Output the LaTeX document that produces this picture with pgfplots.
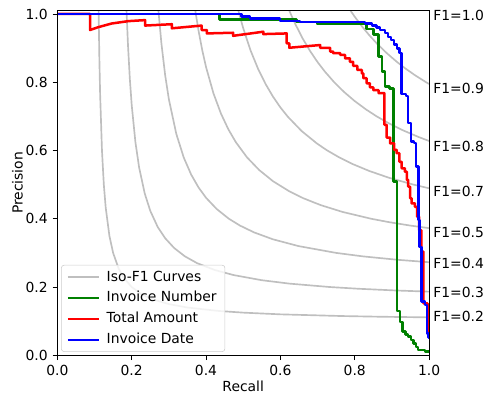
\documentclass[border=0pt]{standalone}
\usepackage{pgfplots}
\pgfplotsset{compat=1.18}
\usepackage{fontspec}
\setmainfont{DejaVu Sans}
\definecolor{isogray}{RGB}{191,191,191}
\definecolor{mplgreen}{RGB}{0,128,0}
\definecolor{legedge}{RGB}{204,204,204}
\begin{document}
\begin{tikzpicture}
\begin{axis}[
  scale only axis, width=267.6pt, height=248.2pt,
  xmin=0, xmax=1, ymin=0, ymax=1.01,
  xtick={0,0.2,0.4,0.6,0.8,1.0}, ytick={0,0.2,0.4,0.6,0.8,1.0},
  tick align=outside, major tick length=3.5pt,
  xtick pos=bottom, ytick pos=left,
  tick style={black, line width=0.6pt},
  axis line style={line width=0.6pt},
  xticklabel style={/pgf/number format/.cd, fixed, fixed zerofill, precision=1, assume math mode=true},
  yticklabel style={/pgf/number format/.cd, fixed, fixed zerofill, precision=1, assume math mode=true},
  font=\fontsize{10}{12}\selectfont,
  xlabel={Recall}, ylabel={Precision},
  xlabel style={yshift=3pt},
  ylabel style={yshift=-5pt},
  clip mode=individual,
  axis on top,
  legend style={at={(0.01,0.01)}, anchor=south west, draw=legedge, rounded corners=2pt,
    fill=white, fill opacity=0.8, text opacity=1, font=\fontsize{10}{12}\selectfont,
    inner xsep=4pt, inner ysep=2pt, row sep=2pt},
  legend cell align=left,
  legend image code/.code={\draw[#1, line width=1.5pt] (0pt,0pt) -- (22pt,0pt); \path (25pt,0pt);},
]
% Iso-F1 curves
\addplot[isogray, line width=1.2pt] coordinates {(0.11099,1.01)(0.1111,1)(0.113,0.869)(0.115,0.7667)(0.12,0.6)(0.125,0.5)(0.13,0.4333)(0.14,0.35)(0.15,0.3)(0.165,0.2538)(0.18,0.225)(0.2,0.2)(0.225,0.18)(0.2538,0.165)(0.3,0.15)(0.35,0.14)(0.4333,0.13)(0.5,0.125)(0.6,0.12)(0.7667,0.115)(0.869,0.113)(1,0.1111)};
\addlegendentry{Iso-F1 Curves}
\addplot[isogray, line width=1.2pt, forget plot] coordinates {(0.18610,1.01)(0.18644,1)(0.19,0.9087)(0.195,0.8094)(0.2,0.7333)(0.21,0.6243)(0.22,0.55)(0.235,0.4743)(0.25,0.4231)(0.27,0.3759)(0.29,0.343)(0.3143,0.3143)(0.343,0.29)(0.3759,0.27)(0.4231,0.25)(0.4743,0.235)(0.55,0.22)(0.6243,0.21)(0.7333,0.2)(0.8094,0.195)(0.9087,0.19)(1,0.18644)};
\addplot[isogray, line width=1.2pt, forget plot] coordinates {(0.27199,1.01)(0.27273,1)(0.28,0.913)(0.29,0.8208)(0.30,0.75)(0.32,0.6486)(0.34,0.5795)(0.36,0.5294)(0.38,0.4914)(0.40,0.4615)(0.4286,0.4286)(0.4615,0.40)(0.4914,0.38)(0.5294,0.36)(0.5795,0.34)(0.6486,0.32)(0.75,0.30)(0.8208,0.29)(0.913,0.28)(1,0.27273)};
\addplot[isogray, line width=1.2pt, forget plot] coordinates {(0.37118,1.01)(0.37255,1)(0.38,0.95)(0.39,0.8928)(0.40,0.8444)(0.42,0.7673)(0.44,0.7085)(0.46,0.6621)(0.48,0.6247)(0.51,0.5802)(0.5429,0.5429)(0.5802,0.51)(0.6247,0.48)(0.6621,0.46)(0.7085,0.44)(0.7673,0.42)(0.8444,0.40)(0.8928,0.39)(0.95,0.38)(1,0.37255)};
\addplot[isogray, line width=1.2pt, forget plot] coordinates {(0.487,1.01)(0.48936,1)(0.50,0.9583)(0.52,0.8925)(0.54,0.8392)(0.56,0.7951)(0.58,0.758)(0.60,0.7263)(0.62,0.699)(0.6571,0.6571)(0.699,0.62)(0.7263,0.60)(0.758,0.58)(0.7951,0.56)(0.8392,0.54)(0.8925,0.52)(0.9583,0.50)(1,0.48936)};
\addplot[isogray, line width=1.2pt, forget plot] coordinates {(0.62403,1.01)(0.62791,1)(0.64,0.9708)(0.66,0.9281)(0.68,0.8913)(0.70,0.8591)(0.72,0.8308)(0.745,0.7998)(0.7714,0.7714)(0.7998,0.745)(0.8308,0.72)(0.8591,0.70)(0.8913,0.68)(0.9281,0.66)(0.9708,0.64)(1,0.62791)};
\addplot[isogray, line width=1.2pt, forget plot] coordinates {(0.78866,1.01)(0.79487,1)(0.80,0.992)(0.82,0.9629)(0.84,0.9367)(0.86,0.913)(0.8857,0.8857)(0.913,0.86)(0.9367,0.84)(0.9629,0.82)(0.992,0.80)(1,0.79487)};
% Invoice Number
\addplot[mplgreen, line width=1.8pt, const plot, line join=round] coordinates {
(0,1)(0.436,0.984)(0.644,0.9766)(0.698,0.970)(0.832,0.956)(0.850,0.9405)(0.864,0.875)(0.874,0.831)(0.882,0.787)(0.893,0.782)(0.904,0.509)(0.914,0.130)(0.922,0.098)(0.928,0.069)(0.937,0.0615)(0.944,0.0545)(0.9516,0.0448)(0.958,0.035)(0.965,0.025)(0.970,0.0155)(0.989,0.0105)(1.0,0.006)};
\addlegendentry{Invoice Number}
% Total Amount
\addplot[red, line width=1.8pt, line join=round] coordinates {
(0,1)(0.088,1)(0.088,0.953)(0.109,0.961)(0.146,0.972)(0.191,0.979)(0.236,0.982)(0.236,0.966)(0.308,0.970)(0.308,0.958)(0.388,0.966)(0.388,0.953)(0.402,0.953)(0.402,0.943)(0.473,0.945)(0.473,0.936)(0.554,0.948)(0.554,0.941)(0.617,0.943)(0.617,0.914)(0.624,0.914)(0.624,0.901)(0.707,0.909)(0.707,0.901)(0.734,0.901)(0.734,0.890)(0.742,0.890)(0.742,0.885)(0.761,0.885)(0.761,0.880)(0.774,0.880)(0.774,0.870)(0.787,0.870)(0.787,0.860)(0.796,0.860)(0.796,0.848)(0.807,0.848)(0.807,0.836)(0.819,0.836)(0.819,0.826)(0.823,0.826)(0.823,0.812)(0.832,0.812)(0.832,0.797)(0.841,0.797)(0.841,0.785)(0.850,0.785)(0.850,0.777)(0.864,0.777)(0.864,0.768)(0.880,0.768)(0.880,0.675)(0.886,0.675)(0.886,0.638)(0.895,0.638)(0.895,0.621)(0.906,0.621)(0.906,0.602)(0.913,0.602)(0.913,0.592)(0.920,0.592)(0.920,0.567)(0.926,0.567)(0.926,0.548)(0.935,0.548)(0.935,0.538)(0.940,0.538)(0.940,0.514)(0.944,0.514)(0.944,0.494)(0.949,0.494)(0.949,0.460)(0.953,0.460)(0.953,0.445)(0.962,0.445)(0.962,0.435)(0.968,0.435)(0.968,0.406)(0.973,0.406)(0.973,0.367)(0.979,0.367)(0.979,0.3035)(0.985,0.3035)(0.985,0.152)(0.996,0.152)(0.996,0.065)(1.0,0.065)};
\addlegendentry{Total Amount}
% Invoice Date
\addplot[blue, line width=1.8pt, const plot, line join=round] coordinates {
(0,1)(0.496,0.9927)(0.518,0.986)(0.599,0.980)(0.653,0.977)(0.828,0.972)(0.847,0.966)(0.859,0.960)(0.868,0.953)(0.882,0.944)(0.890,0.933)(0.898,0.924)(0.906,0.911)(0.914,0.8995)(0.920,0.885)(0.9265,0.766)(0.938,0.760)(0.944,0.681)(0.951,0.626)(0.960,0.622)(0.965,0.553)(0.971,0.396)(0.974,0.318)(0.980,0.157)(0.989,0.147)(0.994,0.064)(0.998,0.052)(1.0,0.052)};
\addlegendentry{Invoice Date}
% F1 labels
\node[anchor=west, inner sep=0pt] at (axis cs:1.011,0.997) {F1=1.0};
\node[anchor=west, inner sep=0pt] at (axis cs:1.011,0.783) {F1=0.9};
\node[anchor=west, inner sep=0pt] at (axis cs:1.011,0.613) {F1=0.8};
\node[anchor=west, inner sep=0pt] at (axis cs:1.011,0.481) {F1=0.7};
\node[anchor=west, inner sep=0pt] at (axis cs:1.011,0.361) {F1=0.5};
\node[anchor=west, inner sep=0pt] at (axis cs:1.011,0.270) {F1=0.4};
\node[anchor=west, inner sep=0pt] at (axis cs:1.011,0.185) {F1=0.3};
\node[anchor=west, inner sep=0pt] at (axis cs:1.011,0.115) {F1=0.2};
\end{axis}
\pgfresetboundingbox
\path (-41.3pt,-27.9pt) rectangle (308.6pt,255.8pt);
\end{tikzpicture}
\end{document}
